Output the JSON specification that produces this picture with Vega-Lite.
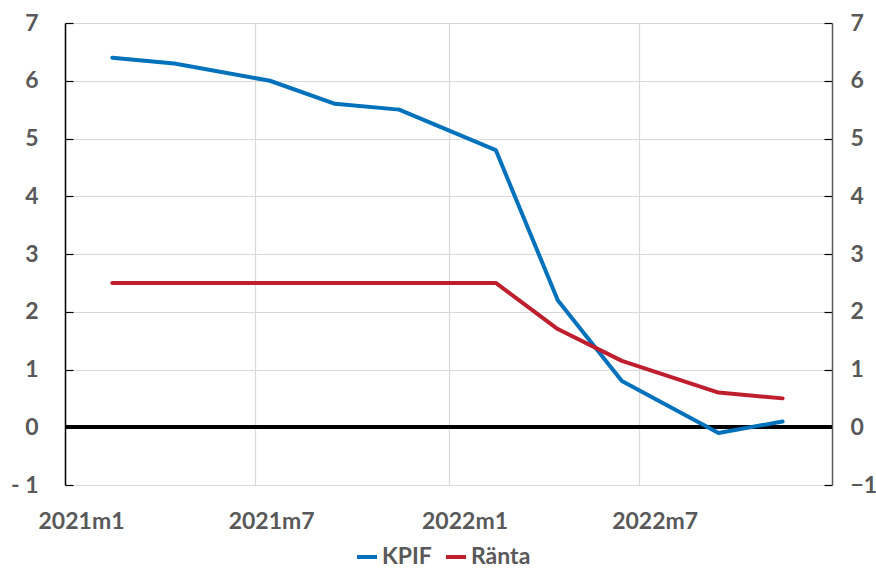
{
  "$schema": "https://vega.github.io/schema/vega-lite/v6.json",
  "autosize": "none",
  "width": 767,
  "height": 462,
  "padding": {"left": 65, "top": 23, "right": 44, "bottom": 86},
  "background": "white",
  "config": {
    "view": {"stroke": null},
    "font": "Lato",
    "axis": {
      "labelFont": "Lato",
      "labelFontWeight": "bold",
      "labelFontSize": 23,
      "labelColor": "#595959",
      "gridColor": "#d9d9d9",
      "gridWidth": 1.2,
      "title": null
    }
  },
  "data": {
    "values": [
      {"date": "2021-02-15", "serie": "KPIF", "value": 6.4},
      {"date": "2021-04-15", "serie": "KPIF", "value": 6.3},
      {"date": "2021-07-15", "serie": "KPIF", "value": 6.0},
      {"date": "2021-09-15", "serie": "KPIF", "value": 5.6},
      {"date": "2021-11-15", "serie": "KPIF", "value": 5.5},
      {"date": "2022-02-15", "serie": "KPIF", "value": 4.8},
      {"date": "2022-04-15", "serie": "KPIF", "value": 2.2},
      {"date": "2022-06-15", "serie": "KPIF", "value": 0.8},
      {"date": "2022-09-15", "serie": "KPIF", "value": -0.1},
      {"date": "2022-11-15", "serie": "KPIF", "value": 0.1},
      {"date": "2021-02-15", "serie": "Ränta", "value": 2.5},
      {"date": "2021-04-15", "serie": "Ränta", "value": 2.5},
      {"date": "2021-07-15", "serie": "Ränta", "value": 2.5},
      {"date": "2021-09-15", "serie": "Ränta", "value": 2.5},
      {"date": "2021-11-15", "serie": "Ränta", "value": 2.5},
      {"date": "2022-02-15", "serie": "Ränta", "value": 2.5},
      {"date": "2022-04-15", "serie": "Ränta", "value": 1.7},
      {"date": "2022-06-15", "serie": "Ränta", "value": 1.15},
      {"date": "2022-09-15", "serie": "Ränta", "value": 0.6},
      {"date": "2022-11-15", "serie": "Ränta", "value": 0.5}
    ]
  },
  "layer": [
    {
      "mark": {"type": "rule", "color": "#000000", "strokeWidth": 3},
      "encoding": {
        "y": {
          "datum": 0,
          "type": "quantitative",
          "scale": {"domain": [-1, 7], "nice": false},
          "axis": {
            "orient": "right",
            "values": [-1, 0, 1, 2, 3, 4, 5, 6, 7],
            "grid": false,
            "domainColor": "#595959",
            "domainWidth": 1.5,
            "tickColor": "#000000",
            "tickSize": -8,
            "tickWidth": 1.2,
            "labelPadding": 26
          }
        }
      }
    },
    {
      "mark": {"type": "line", "strokeWidth": 4, "strokeJoin": "round", "strokeCap": "round"},
      "encoding": {
        "x": {
          "field": "date",
          "type": "temporal",
          "scale": {"domain": ["2021-01-01", "2023-01-01"], "nice": false},
          "axis": {
            "values": ["2021-01-01", "2021-07-01", "2022-01-01", "2022-07-01"],
            "labelExpr": "year(datum.value) + 'm' + (month(datum.value) + 1)",
            "labelOffset": 16,
            "labelAlign": "center",
            "labelPadding": 25,
            "ticks": false,
            "domain": false,
            "grid": true
          }
        },
        "y": {
          "field": "value",
          "type": "quantitative",
          "scale": {"domain": [-1, 7], "nice": false},
          "axis": {
            "orient": "left",
            "values": [-1, 0, 1, 2, 3, 4, 5, 6, 7],
            "labelExpr": "datum.value < 0 ? '- ' + abs(datum.value) : datum.label",
            "grid": true,
            "domainColor": "#000000",
            "domainWidth": 1.5,
            "tickColor": "#000000",
            "tickSize": -8,
            "tickWidth": 1.2,
            "labelPadding": 35
          }
        },
        "color": {
          "field": "serie",
          "type": "nominal",
          "scale": {"domain": ["KPIF", "Ränta"], "range": ["#0072BC", "#BE1E2D"]},
          "legend": {
            "title": null,
            "orient": "none",
            "direction": "horizontal",
            "legendX": 290,
            "legendY": 522,
            "symbolType": "stroke",
            "symbolStrokeWidth": 4,
            "symbolSize": 400,
            "labelFont": "Lato",
            "labelFontWeight": "bold",
            "labelFontSize": 23,
            "labelColor": "#595959",
            "labelOffset": 3,
            "columnPadding": 6
          }
        }
      }
    }
  ],
  "resolve": {"axis": {"y": "independent"}}
}
